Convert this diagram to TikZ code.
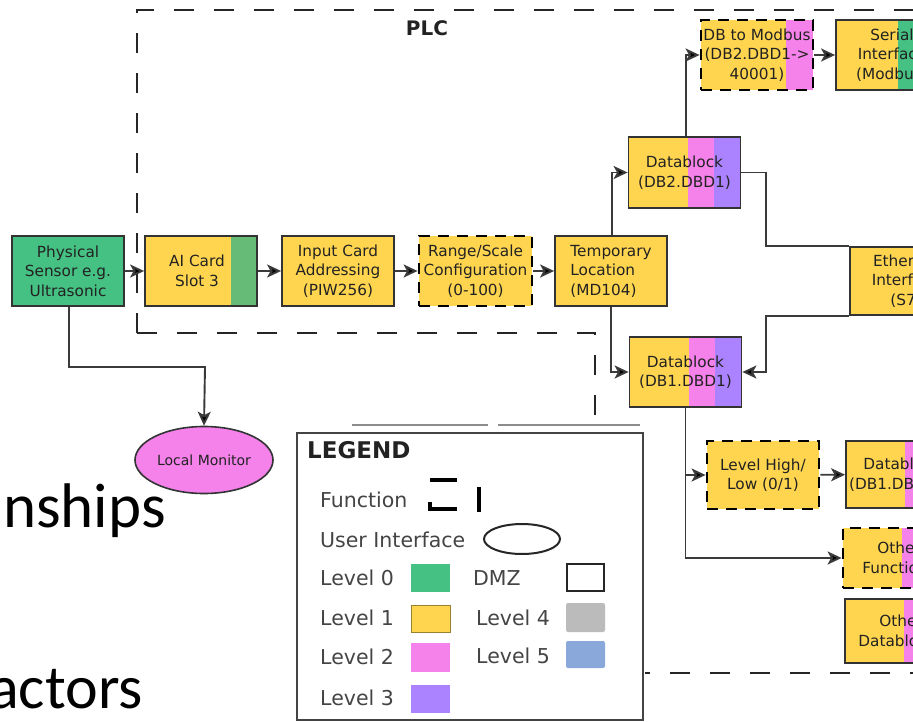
\documentclass[tikz,border=0pt]{standalone}
\usepackage{fontspec}
\setmainfont{DejaVu Sans}
\newfontfamily\slidefont{Carlito}
\usetikzlibrary{arrows.meta,shapes.geometric}
\definecolor{cgreen}{HTML}{45C183}
\definecolor{caigreen}{HTML}{66BB77}
\definecolor{cyellow}{HTML}{FFD54F}
\definecolor{cpink}{HTML}{F582EA}
\definecolor{cpurple}{HTML}{AB82FF}
\definecolor{cgraysw}{HTML}{BBBBBB}
\definecolor{cbluesw}{HTML}{8AA8DA}
\definecolor{cborder}{HTML}{333333}
\definecolor{ctext}{HTML}{222222}
\definecolor{cline}{HTML}{3A3A3A}
\definecolor{clegtext}{HTML}{444444}
\newcommand\bxfont{\fontsize{15.3}{19.5}\selectfont}
\newcommand\lgfont{\fontsize{20.5}{24}\selectfont}
\tikzset{
  box/.style={draw=cborder, line width=1.8pt, fill=cyellow, minimum width=112pt,
    minimum height=70pt, inner sep=1pt, align=center, font=\bxfont, text=ctext},
  dbox/.style={box, draw=black, line width=2.8pt, dash pattern=on 11pt off 8pt},
  dbstrip/.style={path picture={
    \fill[cpink] ([xshift=-53pt]path picture bounding box.north east) rectangle ([xshift=-27pt]path picture bounding box.south east);
    \fill[cpurple] ([xshift=-27pt]path picture bounding box.north east) rectangle (path picture bounding box.south east);}},
  onestrip/.style 2 args={path picture={
    \fill[#1] ([xshift=-#2]path picture bounding box.north east) rectangle (path picture bounding box.south east);}},
  conn/.style={draw=cline, line width=1.9pt, -{Stealth[length=14pt,width=13pt,inset=3.5pt,fill=black]}},
  plain/.style={draw=cline, line width=1.9pt},
  plcdash/.style={draw=black!85, line width=2.2pt, dash pattern=on 20pt off 20pt},
  legtext/.style={anchor=base west, inner sep=0pt, font=\lgfont, text=clegtext},
}
\begin{document}
\begin{tikzpicture}[x=1pt,y=-1pt]
\useasboundingbox (0,0) rectangle (913,722);
\clip (0,0) rectangle (913,722);
\fill[white] (0,0) rectangle (913,722);

% PLC boundary
\draw[plcdash] (137,333) -- (137,10) -- (930,10);
\draw[plcdash] (137,333) -- (595,333) -- (595,425);
\draw[plcdash] (930,673) -- (645,673);
\node[font=\bfseries\fontsize{20}{24}\selectfont, text=ctext] (plc) at (427,28) {PLC};

% slide text
\node[anchor=base east, inner sep=0pt, font=\slidefont\fontsize{63}{70}\selectfont] (t1) at (166,527) {nships};
\node[anchor=base east, inner sep=0pt, font=\slidefont\fontsize{62}{70}\selectfont] (t2) at (143,708) {actors};

% nodes
\node[box, fill=cgreen] (sensor) at (68,271) {Physical\\Sensor e.g.\\Ultrasonic};
\node[box, onestrip={caigreen}{26pt}] (ai) at (201,271) {\hspace*{-8pt}AI Card\\\hspace*{-8pt}Slot 3};
\node[box] (input) at (338,271) {Input Card\\Addressing\\(PIW256)};
\node[dbox, minimum width=113pt] (range) at (475.5,271) {Range/Scale\\Configuration\\(0-100)};
\node[box, align=left] (temp) at (611,271) {Temporary\\Location\\(MD104)};
\node[box, dbstrip, minimum height=71pt] (db2) at (684.5,172.5) {Datablock\\(DB2.DBD1)};
\node[dbox, onestrip={cpink}{27pt}] (modbus) at (757,55) {DB to Modbus\\(DB2.DBD1->\\40001)};
\node[box, onestrip={cgreen}{50pt}] (serial) at (892,55) {Serial\\Interface\\(Modbus)};
\node[box, minimum height=68pt] (eth) at (906,281) {Ethernet\\Interface\\(S7)};
\node[box, dbstrip] (db1) at (685.5,372) {Datablock\\(DB1.DBD1)};
\node[dbox, minimum height=68pt] (level) at (763,475) {Level High/\\Low (0/1)};
\node[box, dbstrip, minimum height=67pt] (dbx) at (902,474.5) {Datablock\\(DB1.DBX0.0)};
\node[dbox, dbstrip, minimum height=60pt] (ofunc) at (899,558) {Other\\Functions};
\node[box, dbstrip, minimum height=64pt] (odb) at (901,631) {Other\\Datablocks};
\node[ellipse, draw=cborder, line width=1.6pt, fill=cpink, minimum width=138pt, minimum height=67pt,
      inner sep=0pt, font=\fontsize{14}{16}\selectfont, text=ctext] (monitor) at (204,460) {Local Monitor};

% connectors
\draw[conn] (sensor) -- (ai);
\draw[conn] (ai) -- (input);
\draw[conn] (input) -- (range);
\draw[conn] (range) -- (temp);
\draw[conn] ([xshift=1pt]temp.north) |- (db2.west);
\draw[conn] (temp.south) |- (db1.west);
\draw[conn] ([xshift=1.5pt]db2.north) |- (modbus.west);
\draw[conn] (modbus) -- (serial);
\draw[plain] (db2.east) -- ++(25,0) |- (eth.north west);
\draw[conn] (eth.south west) -- ++(-83,0) |- (db1.east);
\draw[conn] (db1.south) |- (level.west);
\draw[conn] (db1.south) |- (ofunc.west);
\draw[conn] (level) -- (dbx);
\coordinate (bend) at (205,367);
\draw[conn] ([xshift=1pt]sensor.south) |- (bend) -- (monitor.north);

% legend
\draw[black!45, line width=1.8pt] (352,425) -- (488,425);
\draw[black!45, line width=1.8pt] (498,425) -- (640,425);
\node[draw=clegtext, line width=2.5pt, fill=white, minimum width=346pt, minimum height=287pt, inner sep=0pt] (legend) at (470,576.5) {};
\node[anchor=base west, inner sep=0pt, font=\bfseries\fontsize{23}{26}\selectfont, text=ctext] (lgtitle) at (307,458) {LEGEND};
\node[legtext] (lfun) at (320,507) {Function};
\node[legtext] (lui) at (320,547) {User Interface};
\node[legtext] (l0) at (320,585) {Level 0};
\node[legtext] (l1) at (320,625) {Level 1};
\node[legtext] (l2) at (320,664) {Level 2};
\node[legtext] (l3) at (320,705) {Level 3};
\node[legtext] (ldmz) at (473,585) {DMZ};
\node[legtext] (l4) at (476,625) {Level 4};
\node[legtext] (l5) at (476,663) {Level 5};
% legend symbols
\draw[black, line width=4pt] (430,480) -- (457,480);
\draw[black, line width=3.5pt] (430,502) -- (430,509) -- (457,509);
\draw[black, line width=4pt] (479,487) -- (479,512);
\draw[black!85, line width=2pt] (522,539) ellipse [x radius=38, y radius=15];
\fill[cgreen] (411,564) rectangle (450,592);
\fill[cyellow] (411,605) rectangle (450,632);
\draw[black!40!cyellow, line width=0.6pt] (411,605) rectangle (450,632);
\fill[cpink] (411,643) rectangle (450,672);
\fill[cpurple] (411,685) rectangle (450,713);
\draw[black!85, line width=2.2pt] (567,564) rectangle (604,591);
\fill[cgraysw, rounded corners=2pt] (566,603) rectangle (605,632);
\fill[cbluesw, rounded corners=2pt] (566,641) rectangle (605,668);
\end{tikzpicture}
\end{document}
